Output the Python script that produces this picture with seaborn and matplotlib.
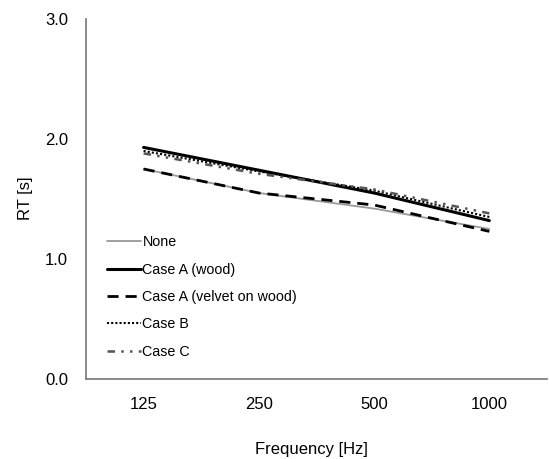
import matplotlib
matplotlib.use("Agg")
import matplotlib.pyplot as plt
import seaborn as sns
import pandas as pd
import numpy as np

frequencies = ["125", "250", "500", "1000"]
none_vals = [1.75, 1.55, 1.42, 1.25]
case_a_wood = [1.93, 1.74, 1.55, 1.32]
case_a_velvet = [1.75, 1.55, 1.45, 1.23]
case_b = [1.90, 1.73, 1.57, 1.35]
case_c = [1.88, 1.71, 1.58, 1.38]

series_names = ["None", "Case A (wood)", "Case A (velvet on wood)", "Case B", "Case C"]
series_values = [none_vals, case_a_wood, case_a_velvet, case_b, case_c]

rows = []
for name, vals in zip(series_names, series_values):
    for i, (f, v) in enumerate(zip(frequencies, vals)):
        rows.append({"series": name, "pos": i, "freq": f, "RT": v})
df = pd.DataFrame(rows)

sns.set_style("white")
plt.rcParams["font.family"] = ["Liberation Sans", "DejaVu Sans"]
plt.rcParams["text.color"] = "black"
plt.rcParams["axes.labelcolor"] = "black"
plt.rcParams["xtick.labelcolor"] = "black"
plt.rcParams["ytick.labelcolor"] = "black"

fig = plt.figure(figsize=(5.49, 4.59), dpi=100)
ax = fig.add_axes([0.1566, 0.1743, 0.8397, 0.7843])

styles = {
    "None": dict(color="#999999", lw=1.3, ls="-"),
    "Case A (wood)": dict(color="black", lw=2.2, ls="-"),
    "Case A (velvet on wood)": dict(color="black", lw=2.0, ls=(0, (4, 2.5))),
    "Case B": dict(color="black", lw=1.5, ls=(0, (1, 1))),
    "Case C": dict(color="#555555", lw=1.8, ls=(0, (3, 2.5, 1, 2.5, 1, 2.5))),
}

for name in series_names:
    st = styles[name]
    sub = df[df["series"] == name]
    sns.lineplot(data=sub, x="pos", y="RT", ax=ax, label=name,
                 color=st["color"], linewidth=st["lw"], linestyle=st["ls"])

ax.set_xlim(-0.5, 3.5)
ax.set_ylim(0, 3.0)
ax.set_yticks([0, 1, 2, 3])
ax.set_yticklabels(["0.0", "1.0", "2.0", "3.0"], fontsize=12)
ax.set_xticks(range(len(frequencies)))
ax.set_xticklabels(frequencies, fontsize=12)
ax.set_xticks([0.5, 1.5, 2.5], minor=True)
ax.tick_params(axis="x", which="major", length=0, pad=13)
ax.tick_params(axis="x", which="minor", length=4, direction="in", color="#555555", width=1)
ax.tick_params(axis="y", which="major", length=4, direction="in", color="#555555", width=1, pad=13)

for side in ["top", "right"]:
    ax.spines[side].set_visible(False)
for side in ["left", "bottom"]:
    ax.spines[side].set_color("#777777")
    ax.spines[side].set_linewidth(1.2)

ax.set_xlabel("Frequency [Hz]", fontsize=12, va="center")
ax.set_ylabel("RT [s]", fontsize=12, va="center")
ax.xaxis.set_label_coords(0.49, -0.197)
ax.yaxis.set_label_coords(-0.132, 0.503)

leg = ax.legend(loc="upper left", bbox_to_anchor=(0.045, 0.399), frameon=False,
                fontsize=10.3, handlelength=2.4, handletextpad=0.1,
                labelspacing=0.93, borderaxespad=0, borderpad=0)

fig.savefig("out.png", dpi=100)
